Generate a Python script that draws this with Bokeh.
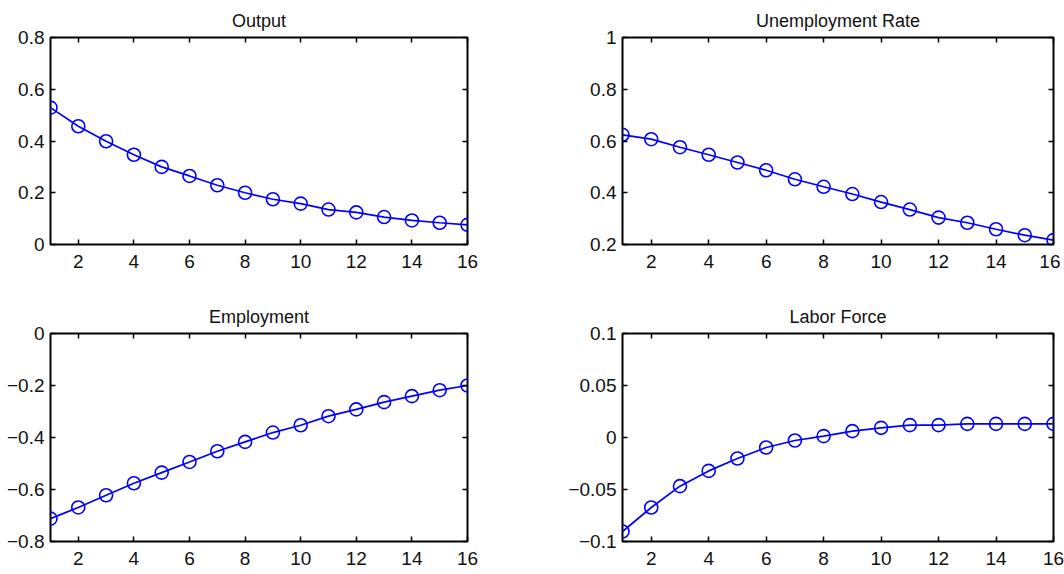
from bokeh.plotting import figure
from bokeh.layouts import gridplot
from bokeh.models import Range1d, LinearAxis, FixedTicker
from bokeh.embed import file_html
from bokeh.resources import INLINE

periods = list(range(1, 17))
output = [0.529, 0.457, 0.399, 0.347, 0.300, 0.265, 0.229, 0.200, 0.175, 0.158,
          0.135, 0.124, 0.106, 0.093, 0.084, 0.076]
unemployment = [0.624, 0.607, 0.576, 0.547, 0.517, 0.487, 0.452, 0.423, 0.395, 0.364,
                0.335, 0.304, 0.284, 0.259, 0.236, 0.217]
employment = [-0.712, -0.669, -0.622, -0.576, -0.535, -0.494, -0.453, -0.417, -0.381,
              -0.353, -0.318, -0.292, -0.264, -0.241, -0.218, -0.200]
labor_force = [-0.0904, -0.0673, -0.0468, -0.0321, -0.0202, -0.0096, -0.0029, 0.0013,
               0.0061, 0.0093, 0.0119, 0.0119, 0.0131, 0.0131, 0.0131, 0.0131]

titles = ["Output", "Unemployment Rate", "Employment", "Labor Force"]
x_ticks = [2, 4, 6, 8, 10, 12, 14, 16]
y_ticks_output = [0, 0.2, 0.4, 0.6, 0.8]
y_ticks_unemp = [0.2, 0.4, 0.6, 0.8, 1.0]
y_ticks_emp = [-0.8, -0.6, -0.4, -0.2, 0]
y_ticks_lab = [-0.1, -0.05, 0, 0.05, 0.1]
y_ranges = [(0, 0.8), (0.2, 1.0), (-0.8, 0), (-0.1, 0.1)]

FONT = "Liberation Sans"
BLUE = "#0000ff"


def style_axis(ax, ticks, show_labels, standoff=6):
    ax.ticker = FixedTicker(ticks=ticks)
    ax.major_tick_in = 5
    ax.major_tick_out = 0
    ax.minor_tick_line_color = None
    ax.major_tick_line_color = "black"
    ax.major_tick_line_width = 1.5
    ax.axis_line_color = None
    if show_labels:
        ax.major_label_text_font = FONT
        ax.major_label_text_font_size = "19px"
        ax.major_label_text_color = "#111111"
        ax.major_label_standoff = standoff
    else:
        # tick marks only: labels are not drawn at all
        ax.major_label_text_font_size = "1px"
        ax.major_label_text_color = None
        ax.major_label_standoff = 0


def make_panel(title, ys, yr, yticks, fw, fh, bl, br, bt, bb):
    p = figure(frame_width=fw, frame_height=fh, output_backend="svg",
               toolbar_location=None, x_axis_location=None, y_axis_location=None,
               x_range=Range1d(1, 16), y_range=Range1d(*yr),
               min_border_left=bl, min_border_right=br,
               min_border_top=bt, min_border_bottom=bb)
    p.title.text = title
    p.title.align = "center"
    p.title.text_font = FONT
    p.title.text_font_size = "18px"
    p.title.text_font_style = "normal"
    p.title.text_color = "#111111"
    p.title.standoff = 14
    p.grid.visible = False
    p.outline_line_color = "black"
    p.outline_line_width = 2
    p.background_fill_color = "white"
    p.border_fill_color = "white"

    xb = LinearAxis()
    style_axis(xb, x_ticks, True, standoff=10)
    p.add_layout(xb, "below")
    xa = LinearAxis()
    style_axis(xa, x_ticks, False)
    p.add_layout(xa, "above")
    yl = LinearAxis()
    style_axis(yl, yticks, True, standoff=6)
    p.add_layout(yl, "left")
    yrax = LinearAxis()
    style_axis(yrax, yticks, False)
    p.add_layout(yrax, "right")

    p.line(periods, ys, line_color=BLUE, line_width=1.7)
    p.scatter(periods, ys, marker="circle", size=13, fill_color=None,
              line_color=BLUE, line_width=1.6)
    return p


p1 = make_panel(titles[0], output, y_ranges[0], y_ticks_output, 417, 207, 50, 98, 37, 52)
p2 = make_panel(titles[1], unemployment, y_ranges[1], y_ticks_unemp, 431, 207, 52, 12, 37, 52)
p3 = make_panel(titles[2], employment, y_ranges[2], y_ticks_emp, 417, 208, 50, 98, 37, 30)
p4 = make_panel(titles[3], labor_force, y_ranges[3], y_ticks_lab, 431, 208, 52, 12, 37, 30)

grid = gridplot([[p1, p2], [p3, p4]], toolbar_location=None)

open("out.html", "w").write(file_html(grid, INLINE))
